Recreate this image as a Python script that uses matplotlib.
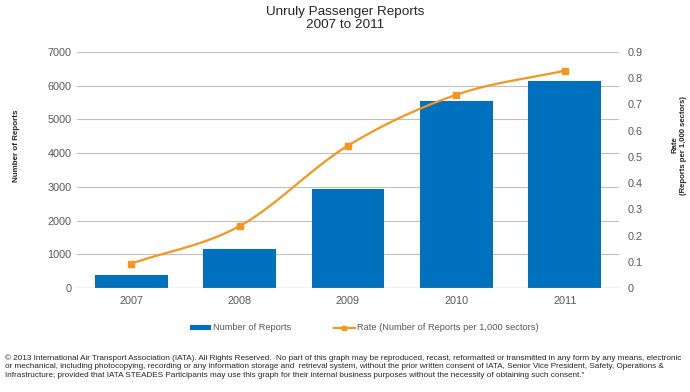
import numpy as np
import matplotlib
matplotlib.use("Agg")
import matplotlib.pyplot as plt
from matplotlib.lines import Line2D
from matplotlib.patches import Patch

years = ["2007", "2008", "2009", "2010", "2011"]
reports = [374, 1157, 2939, 5551, 6153]
rates = [0.093, 0.236, 0.543, 0.737, 0.829]

plt.rcParams['font.family'] = ['Liberation Sans', 'DejaVu Sans']

BLUE = "#0071BC"
ORANGE = "#F7961E"
GRID = "#C0C0C0"
TXT = "#595959"

fig = plt.figure(figsize=(6.9, 3.92), dpi=100)
ax = fig.add_axes([77/690, 1-288/392, (619-77)/690, (288-52)/392])
x = np.arange(len(years))
ax.bar(x, reports, width=0.67, color=BLUE, zorder=2)
ax.set_xlim(-0.5, 4.5)
ax.set_ylim(0, 7000)
ax.set_yticks(np.arange(0, 7001, 1000))
ax.set_xticks(x)
ax.set_xticklabels(years)
ax.grid(axis='y', color=GRID, linewidth=0.8, zorder=0)
for s in ax.spines.values():
    s.set_visible(False)
ax.axhline(0, color="#A6A6A6", linewidth=0.9, zorder=3)
ax.tick_params(axis='both', length=0, labelsize=7.8, labelcolor=TXT)
ax.tick_params(axis='y', pad=4)
ax.tick_params(axis='x', pad=6)

ax2 = ax.twinx()
ax2.set_ylim(0, 0.9)
ax2.set_yticks(np.round(np.arange(0, 0.91, 0.1), 1))
ax2.set_yticklabels(["0"] + [f"{v:.1f}" for v in np.arange(0.1, 0.91, 0.1)])
for s in ax2.spines.values():
    s.set_visible(False)
ax2.tick_params(axis='y', length=0, labelsize=7.8, labelcolor=TXT, pad=6)

fig.text(17/690, 1-146/392, "Number of Reports", rotation=90, fontsize=5.8, fontweight='bold',
         color="#262626", ha='center', va='center')
fig.text(679/690, 1-145/392, "Rate\n(Reports per 1,000 sectors)", rotation=90, fontsize=5.6,
         fontweight='bold', color="#262626", ha='center', va='center', multialignment='center',
         linespacing=1.25)

# smoothed line (Catmull-Rom through the data points)
px = np.array(x, dtype=float)
py = np.array(rates, dtype=float)
P = np.column_stack([px, py])
P_ext = np.vstack([2*P[0]-P[1], P, 2*P[-1]-P[-2]])
cx, cy = [], []
for i in range(1, len(P_ext)-2):
    p0, p1, p2, p3 = P_ext[i-1], P_ext[i], P_ext[i+1], P_ext[i+2]
    t = np.linspace(0, 1, 30)[:, None]
    seg = 0.5*((2*p1) + (-p0+p2)*t + (2*p0-5*p1+4*p2-p3)*t**2 + (-p0+3*p1-3*p2+p3)*t**3)
    cx.extend(seg[:, 0]); cy.extend(seg[:, 1])
ax2.plot(cx, cy, color=ORANGE, linewidth=1.6, zorder=4)
ax2.plot(px, py, linestyle='none', marker='s', markersize=5, color=ORANGE, zorder=5)

fig.text(0.5, 1-6/392, "Unruly Passenger Reports\n2007 to 2011", fontsize=9.7, color="#262626",
         ha='center', va='top', linespacing=1.15)

handles = [Patch(facecolor=BLUE, edgecolor='none'),
           Line2D([0], [0], color=ORANGE, linewidth=1.6, marker='s', markersize=3.5)]
fig.legend(handles, ["Number of Reports", "Rate (Number of Reports per 1,000 sectors)"],
           loc='center', bbox_to_anchor=(364/690, 1-328/392), ncol=2, frameon=False,
           fontsize=6.7, handlelength=2.3, handleheight=0.5, columnspacing=4.6, handletextpad=0.15,
           labelcolor=TXT)

footer = ("\u00a9 2013 International Air Transport Association (IATA). All Rights Reserved.  No part of this graph may be reproduced, recast, reformatted or transmitted in any form by any means, electronic\n"
          "or mechanical, including photocopying, recording or any information storage and  retrieval system, without the prior written consent of IATA, Senior Vice President, Safety, Operations &\n"
          "Infrastructure; provided that IATA STEADES Participants may use this graph for their internal business purposes without the necessity of obtaining such consent.\"")
fig.text(5/690, 1-354/392, footer, fontsize=5.85, va='top', ha='left', color="#262626", linespacing=1.3)

fig.savefig("out.png", dpi=100)
